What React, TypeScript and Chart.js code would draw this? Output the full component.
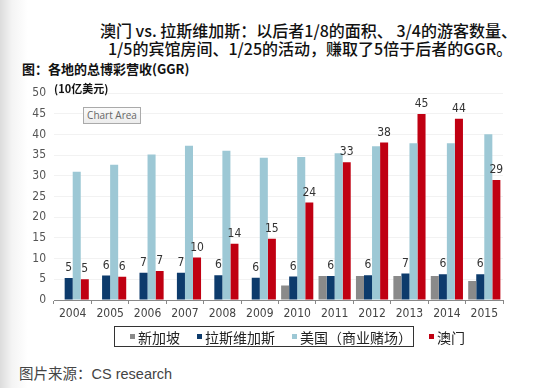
import React, { useEffect, useRef } from "react";
import { Chart, registerables } from "chart.js";

Chart.register(...registerables);

const years = ["2004", "2005", "2006", "2007", "2008", "2009", "2010", "2011", "2012", "2013", "2014", "2015"];
const singapore = [null, null, null, null, null, null, 3.5, 5.8, 5.8, 5.8, 5.8, 4.6];
const lasVegas = [5.3, 5.9, 6.6, 6.6, 6.0, 5.4, 5.7, 5.8, 6.0, 6.4, 6.2, 6.2];
const usCommercial = [31.0, 32.7, 35.2, 37.3, 36.1, 34.4, 34.6, 35.5, 37.2, 37.9, 37.9, 40.1];
const macau = [5.0, 5.6, 7.0, 10.3, 13.6, 14.8, 23.6, 33.3, 38.1, 45.0, 43.8, 29.0];
const lasVegasLabels = [5, 6, 7, 7, 6, 6, 6, 6, 6, 7, 6, 6];
const macauLabels = [5, 6, 7, 10, 14, 15, 24, 33, 38, 45, 44, 29];

const seriesNames = ["新加坡", "拉斯维加斯", "美国（商业赌场）", "澳门"];
const seriesColors = ["#8a8a8a", "#0d3b6c", "#9dc8d5", "#c00012"];

const NARROW = "'Liberation Sans Narrow', 'DejaVu Sans Condensed', 'Liberation Sans', sans-serif";
const CJK = "'Noto Sans CJK SC', 'Noto Sans', sans-serif";

const labelPlugin = {
  id: "barLabels",
  afterDatasetsDraw(chart: any) {
    const ctx = chart.ctx;
    ctx.save();
    ctx.font = `12px ${NARROW}`;
    ctx.fillStyle = "#333";
    ctx.textAlign = "center";
    ctx.textBaseline = "bottom";
    const sets: [number, number[]][] = [[1, lasVegasLabels], [3, macauLabels]];
    sets.forEach(([di, labels]) => {
      const meta = chart.getDatasetMeta(di);
      meta.data.forEach((bar: any, i: number) => {
        ctx.fillText(String(labels[i]), bar.x, bar.y - 4);
      });
    });
    ctx.restore();
  },
};

export default function App() {
  const ref = useRef<HTMLCanvasElement>(null);
  useEffect(() => {
    document.body.style.margin = "0";
    const data = [singapore, lasVegas, usCommercial, macau];
    const chart = new Chart(ref.current!, {
      type: "bar",
      data: {
        labels: years,
        datasets: data.map((d, i) => ({
          label: seriesNames[i],
          data: d as any,
          backgroundColor: seriesColors[i],
          borderWidth: 0,
          barPercentage: 1.0,
          categoryPercentage: 0.86,
        })),
      },
      options: {
        responsive: false,
        animation: false,
        layout: { padding: { top: 10, right: 44, bottom: 0, left: 0 } },
        plugins: { legend: { display: false }, tooltip: { enabled: false } },
        scales: {
          x: {
            afterFit: (s: any) => { s.height = 28; },
            grid: { offset: true, drawOnChartArea: false, drawTicks: true, tickLength: 4, color: "#888" },
            border: { display: true, color: "#888" },
            ticks: { font: { family: NARROW, size: 12 }, color: "#444", padding: 3 },
          },
          y: {
            min: 0,
            max: 50,
            afterFit: (s: any) => { s.width = 54; },
            ticks: { stepSize: 5, font: { family: NARROW, size: 12 }, color: "#555", padding: 8 },
            grid: { color: "rgba(0,0,0,0.05)", drawTicks: false },
            border: { display: false },
          },
        },
      },
      plugins: [labelPlugin],
    });
    return () => chart.destroy();
  }, []);

  return (
    <div style={{ position: "relative", width: 547, height: 388, overflow: "hidden", background: "linear-gradient(to right, #dcdcdc 0px, #f4f4f4 12px, #ffffff 28px)", fontFamily: CJK }}>
      <div style={{ position: "absolute", left: 100, top: 18, fontSize: 16, fontWeight: 500, color: "#111", whiteSpace: "nowrap" }}>
        澳门 vs. 拉斯维加斯：以后者1/8的面积、 3/4的游客数量、
      </div>
      <div style={{ position: "absolute", left: 108, top: 36, fontSize: 16, fontWeight: 500, color: "#111", whiteSpace: "nowrap" }}>
        1/5的宾馆房间、1/25的活动，赚取了5倍于后者的GGR。
      </div>
      <div style={{ position: "absolute", left: 22, top: 59, fontSize: 13, fontWeight: 700, color: "#111", whiteSpace: "nowrap" }}>
        图：各地的总博彩营收(GGR)
      </div>
      <canvas ref={ref} width={547} height={250} style={{ position: "absolute", left: 0, top: 78, width: 547, height: 250 }} />
      <div style={{ position: "absolute", left: 54, top: 80, fontSize: 11, fontWeight: 700, color: "#111", whiteSpace: "nowrap" }}>
        (10亿美元)
      </div>
      <div style={{ position: "absolute", left: 83, top: 107, width: 56, height: 15, border: "1px solid #aaa", background: "linear-gradient(#fbfbfb, #ececec)", fontSize: 10, color: "#666", fontFamily: "'Open Sans', sans-serif", lineHeight: "15px", textAlign: "center", whiteSpace: "nowrap" }}>
        Chart Area
      </div>
      <div style={{ position: "absolute", left: 114, top: 326, width: 298, height: 19, border: "1px solid #333", background: "#fff", display: "flex", alignItems: "center", fontSize: 14, color: "#222", whiteSpace: "nowrap" }}>
        {seriesNames.map((n, i) => (
          <div key={n} style={{ display: "flex", alignItems: "center", marginLeft: i === 0 ? 15 : 17 }}>
            <span style={{ display: "inline-block", width: 5, height: 5, background: seriesColors[i], marginRight: 3 }} />
            <span>{n}</span>
          </div>
        ))}
      </div>
      <div style={{ position: "absolute", left: 19, top: 362, fontSize: 14.5, color: "#444", fontFamily: "'Liberation Sans', 'Noto Sans CJK SC', sans-serif", whiteSpace: "nowrap" }}>
        图片来源：CS research
      </div>
    </div>
  );
}
